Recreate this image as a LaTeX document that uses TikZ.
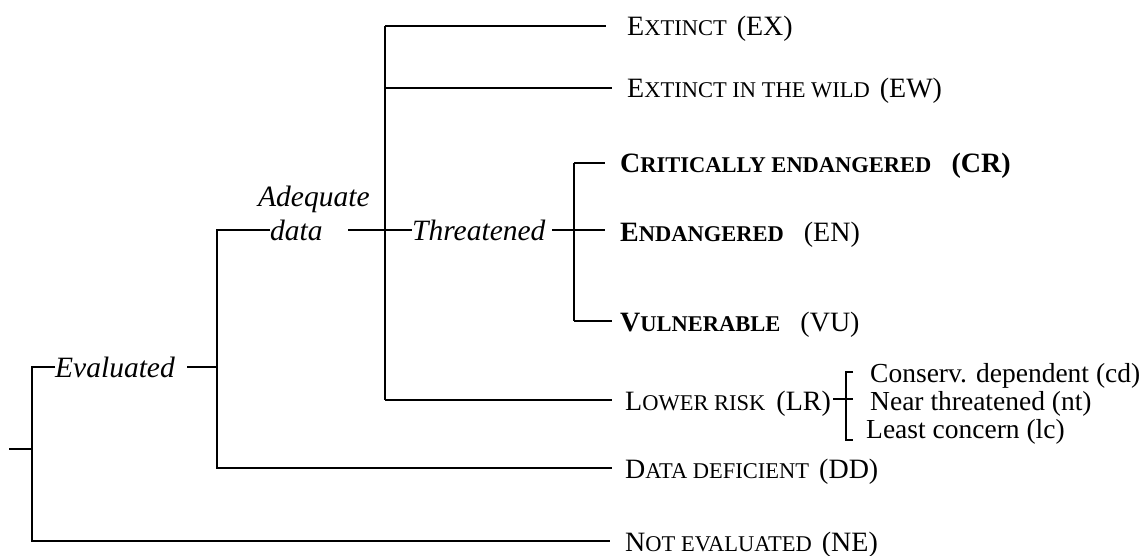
\documentclass[tikz,border=0pt]{standalone}
\usepackage{fontspec}
\setmainfont{Liberation Serif}
\usetikzlibrary{calc}
% faked small capitals: the tail of a word set smaller
\newcommand\smc[1]{{\fontsize{22.5}{22.5}\selectfont #1}}
\newcommand\gap{\hspace{10pt}}
\newcommand\wgap{\hspace{20pt}}
\begin{document}
\begin{tikzpicture}[x=1pt,y=-1pt,
  conn/.style={line width=2.3pt, line join=miter},
  heavy/.style={line width=2.9pt, line join=miter},
  lab/.style={anchor=west, inner sep=0pt, text height=20pt, text depth=0pt,
              font=\fontsize{28}{28}\selectfont},
  itl/.style={lab, font=\fontsize{29.5}{29.5}\selectfont\itshape},
  sub/.style={anchor=base west, inner sep=0pt, font=\fontsize{27.5}{27.5}\selectfont}]
\useasboundingbox (0,0) rectangle (1142,556);

% ---- labels ----
\node[itl] (eval) at (55,367) {Evaluated};
\node[itl, anchor=base west] (adq) at (258,207) {Adequate};
\node[itl] (data) at (270,230) {data};
\node[itl] (thr) at (412,230) {Threatened};

\node[lab] (ex) at (627,26) {E\smc{XTINCT}\gap(EX)};
\node[lab] (ew) at (627,88) {E\smc{XTINCT IN THE WILD}\gap(EW)};
\node[lab, font=\fontsize{28}{28}\selectfont\bfseries] (cr) at (620,163) {C\smc{RITICALLY ENDANGERED}\wgap(CR)};
\node[lab] (en) at (620,231) {\textbf{E\smc{NDANGERED}}\wgap(EN)};
\node[lab] (vu) at (620,321) {\textbf{V\smc{ULNERABLE}}\wgap(VU)};
\node[lab] (lr) at (625,400) {L\smc{OWER RISK}\hspace{11pt}(LR)};
\node[lab] (dd) at (625,468) {D\smc{ATA DEFICIENT}\gap(DD)};
\node[lab] (ne) at (625,541) {N\smc{OT EVALUATED}\gap(NE)};

\node[sub] (cd) at (870,382) {Conserv. dependent (cd)};
\node[sub] (nt) at (870,410) {Near threatened (nt)};
\node[sub] (lc) at (866,438) {Least concern (lc)};

% ---- junction points ----
\coordinate (root) at (9,449);
\coordinate (rootj) at (32,449);
\coordinate (evalR) at (187,367);
\coordinate (adqj) at (217,367);
\coordinate (dataR) at (348,230);
\coordinate (catj) at (385,230);
\coordinate (thrR) at (552,230);
\coordinate (thrj) at (574,230);
\coordinate (lrj) at (846,399);

% ---- tree ----
\draw[conn] (root) -- (rootj);
\draw[conn, shorten >=15pt] (eval.west) -- (32,367) -- (32,541) -- (ne.west);
\draw[conn] (evalR) -- (adqj);
\draw[conn, shorten >=13pt] (data.west) -- (217,230) -- (217,468) -- (dd.west);
\draw[conn] (dataR) -- (thr.west);
\draw[conn, shorten >=21pt] (catj |- ex.west) -- (ex.west);
\draw[conn] (catj |- ex.west) -- (385,400);
\draw[conn, shorten >=15pt] (catj |- ew.west) -- (ew.west);
\draw[conn, shorten >=13pt] (385,400) -- (lr.west);
\draw[conn] (thrR) -- (605,230);
\draw[heavy, shorten >=15pt] ($(thrj)+(0,-67)$) -- (cr.west);
\draw[heavy] ($(thrj)+(0,-67)$) -- (574,321);
\draw[heavy, shorten >=8pt] (574,321) -- (vu.west);
% lower risk sub-bracket
\draw[conn] ($(lr.east)+(2,-1)$) -- ($(lrj)+(7,0)$);
\draw[conn] ($(lrj)+(7,-27)$) -- ($(lrj)+(0,-27)$) -- ($(lrj)+(0,41)$) -- ($(lrj)+(7,41)$);
\end{tikzpicture}
\end{document}
